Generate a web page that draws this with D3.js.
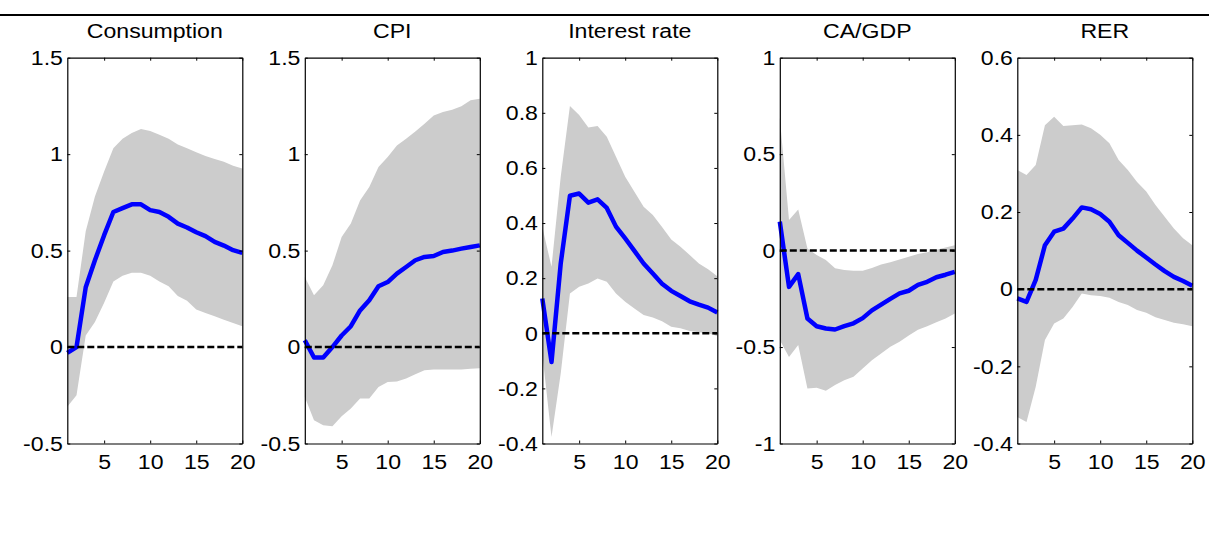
<!DOCTYPE html>
<html>
<head>
<meta charset="utf-8">
<script src="https://cdn.jsdelivr.net/npm/d3@7"></script>
<style>
  body { margin: 0; background: #fff; }
  svg { display: block; }
</style>
</head>
<body>
<script>
// impulse responses, horizon 1..20
var periods = d3.range(1, 21);
var titles = ["Consumption", "CPI", "Interest rate", "CA/GDP", "RER"];
var yDomains = [[-0.5, 1.5], [-0.5, 1.5], [-0.4, 1], [-1, 1], [-0.4, 0.6]];
var yTicks = [
  [-0.5, 0, 0.5, 1, 1.5],
  [-0.5, 0, 0.5, 1, 1.5],
  [-0.4, -0.2, 0, 0.2, 0.4, 0.6, 0.8, 1],
  [-1, -0.5, 0, 0.5, 1],
  [-0.4, -0.2, 0, 0.2, 0.4, 0.6]
];
var xTicks = [5, 10, 15, 20];

var consMid = [-0.03, 0.0, 0.31, 0.45, 0.58, 0.70, 0.72, 0.74, 0.74, 0.71, 0.70, 0.675, 0.64, 0.62, 0.595, 0.575, 0.545, 0.526, 0.502, 0.488];
var consHi  = [0.26, 0.26, 0.60, 0.78, 0.91, 1.03, 1.08, 1.11, 1.13, 1.12, 1.10, 1.08, 1.05, 1.03, 1.01, 0.99, 0.975, 0.96, 0.94, 0.925];
var consLo  = [-0.31, -0.25, 0.06, 0.13, 0.23, 0.34, 0.37, 0.385, 0.385, 0.37, 0.34, 0.315, 0.265, 0.24, 0.195, 0.177, 0.16, 0.142, 0.125, 0.108];

var cpiMid = [0.035, -0.054, -0.054, 0.0, 0.06, 0.108, 0.19, 0.243, 0.315, 0.337, 0.381, 0.415, 0.45, 0.467, 0.472, 0.493, 0.50, 0.51, 0.519, 0.527];
var cpiHi  = [0.363, 0.268, 0.32, 0.424, 0.57, 0.64, 0.76, 0.83, 0.933, 0.985, 1.045, 1.08, 1.118, 1.158, 1.20, 1.218, 1.23, 1.248, 1.279, 1.287];
var cpiLo  = [-0.259, -0.379, -0.405, -0.41, -0.359, -0.319, -0.267, -0.267, -0.207, -0.181, -0.178, -0.163, -0.141, -0.12, -0.117, -0.117, -0.117, -0.117, -0.112, -0.11];

var rateMid = [0.126, -0.104, 0.253, 0.499, 0.507, 0.474, 0.486, 0.455, 0.387, 0.344, 0.299, 0.253, 0.217, 0.18, 0.154, 0.135, 0.116, 0.104, 0.093, 0.075];
var rateHi  = [0.386, 0.241, 0.568, 0.825, 0.792, 0.747, 0.752, 0.713, 0.641, 0.568, 0.514, 0.459, 0.429, 0.386, 0.34, 0.314, 0.284, 0.253, 0.232, 0.207];
var rateLo  = [-0.073, -0.376, -0.146, 0.144, 0.169, 0.181, 0.199, 0.187, 0.144, 0.114, 0.09, 0.066, 0.057, 0.044, 0.024, 0.018, 0.008, 0.004, 0.0, -0.01];

var caMid = [0.15, -0.188, -0.122, -0.352, -0.392, -0.404, -0.409, -0.392, -0.377, -0.35, -0.31, -0.28, -0.25, -0.222, -0.208, -0.178, -0.162, -0.138, -0.125, -0.11];
var caHi  = [0.69, 0.158, 0.213, 0.011, -0.023, -0.049, -0.092, -0.101, -0.104, -0.105, -0.09, -0.072, -0.06, -0.046, -0.032, -0.018, -0.008, 0.004, 0.016, 0.028];
var caLo  = [-0.464, -0.551, -0.49, -0.715, -0.711, -0.727, -0.697, -0.672, -0.654, -0.611, -0.568, -0.533, -0.499, -0.473, -0.44, -0.41, -0.392, -0.372, -0.352, -0.326];

var rerMid = [-0.024, -0.033, 0.024, 0.114, 0.149, 0.157, 0.183, 0.212, 0.207, 0.195, 0.175, 0.14, 0.12, 0.10, 0.082, 0.064, 0.047, 0.032, 0.021, 0.009];
var rerHi  = [0.309, 0.296, 0.322, 0.425, 0.447, 0.423, 0.425, 0.427, 0.417, 0.40, 0.378, 0.335, 0.309, 0.278, 0.253, 0.218, 0.188, 0.157, 0.132, 0.114];
var rerLo  = [-0.331, -0.344, -0.253, -0.132, -0.089, -0.076, -0.046, -0.011, -0.016, -0.018, -0.022, -0.033, -0.041, -0.054, -0.061, -0.073, -0.08, -0.087, -0.091, -0.096];

var mids = [consMid, cpiMid, rateMid, caMid, rerMid];
var his = [consHi, cpiHi, rateHi, caHi, rerHi];
var los = [consLo, cpiLo, rateLo, caLo, rerLo];

var drawPanels = function(){
  var W = 1209, H = 533;
  var stretch = 1.1;   // the picture's text is a bit wide
  var fontFam = "'Liberation Sans', Arial, sans-serif";
  var fontSize = "21px";

  var svg = d3.select("body").append("svg")
    .attr("width", W)
    .attr("height", H)
    .attr("xmlns", "http://www.w3.org/2000/svg");

  // rule at the top of the figure
  svg.append("line")
    .attr("x1", 0).attr("x2", W)
    .attr("y1", 15).attr("y2", 15)
    .attr("stroke", "black")
    .attr("stroke-width", 2.2);

  var plotW = 175, plotTop = 57.7, plotBottom = 443.5;

  var fmt = function(d){ return String(+d.toFixed(2)); };

  for(var i = 0; i < titles.length; i++){
    var left = 67.3 + i * 237.5;
    var g = svg.append("g").attr("transform", "translate(" + left + ",0)");

    var x = d3.scaleLinear().domain([1, 20]).range([0, plotW]);
    var y = d3.scaleLinear().domain(yDomains[i]).range([plotBottom, plotTop]);

    var rows = periods.map(function(t, k){ return {t: t, mid: mids[i][k], lo: los[i][k], hi: his[i][k]}; });

    // confidence band
    var band = d3.area()
      .x(function(d){ return x(d.t); })
      .y0(function(d){ return y(d.lo); })
      .y1(function(d){ return y(d.hi); });
    g.append("path")
      .datum(rows)
      .attr("d", band)
      .attr("fill", "#cccccc")
      .attr("stroke", "none");

    // median response
    var line = d3.line()
      .x(function(d){ return x(d.t); })
      .y(function(d){ return y(d.mid); });
    g.append("path")
      .datum(rows)
      .attr("d", line)
      .attr("fill", "none")
      .attr("stroke", "#0000ff")
      .attr("stroke-width", 4.5)
      .attr("stroke-linejoin", "round");

    // zero line
    g.append("line")
      .attr("x1", x(1)).attr("x2", x(20))
      .attr("y1", y(0)).attr("y2", y(0))
      .attr("stroke", "black")
      .attr("stroke-width", 2.5)
      .attr("stroke-dasharray", "7,3");

    // axes, matlab style box with inward ticks
    var axB = g.append("g").attr("transform", "translate(0," + plotBottom + ")")
      .call(d3.axisBottom(x).tickValues(xTicks).tickSize(-3).tickPadding(11).tickSizeOuter(0));
    var axT = g.append("g").attr("transform", "translate(0," + plotTop + ")")
      .call(d3.axisTop(x).tickValues(xTicks).tickSize(-3).tickFormat("").tickSizeOuter(0));
    var axL = g.append("g")
      .call(d3.axisLeft(y).tickValues(yTicks[i]).tickSize(-3).tickPadding(4).tickFormat(fmt).tickSizeOuter(0));
    var axR = g.append("g").attr("transform", "translate(" + plotW + ",0)")
      .call(d3.axisRight(y).tickValues(yTicks[i]).tickSize(-3).tickFormat("").tickSizeOuter(0));

    [axB, axT, axL, axR].forEach(function(a){
      a.select(".domain").attr("stroke", "black").attr("stroke-width", 1.2);
      a.selectAll(".tick line").attr("stroke", "black");
      a.selectAll("text")
        .attr("fill", "black")
        .style("font-family", fontFam)
        .style("font-size", fontSize)
        .attr("transform", "scale(" + stretch + ",1)");
    });

    g.append("text")
      .attr("x", (plotW / 2) / stretch)
      .attr("y", 38.5)
      .attr("transform", "scale(" + stretch + ",1)")
      .attr("text-anchor", "middle")
      .style("font-family", fontFam)
      .style("font-size", fontSize)
      .attr("fill", "black")
      .text(titles[i]);
  }
};

drawPanels();
</script>
</body>
</html>
